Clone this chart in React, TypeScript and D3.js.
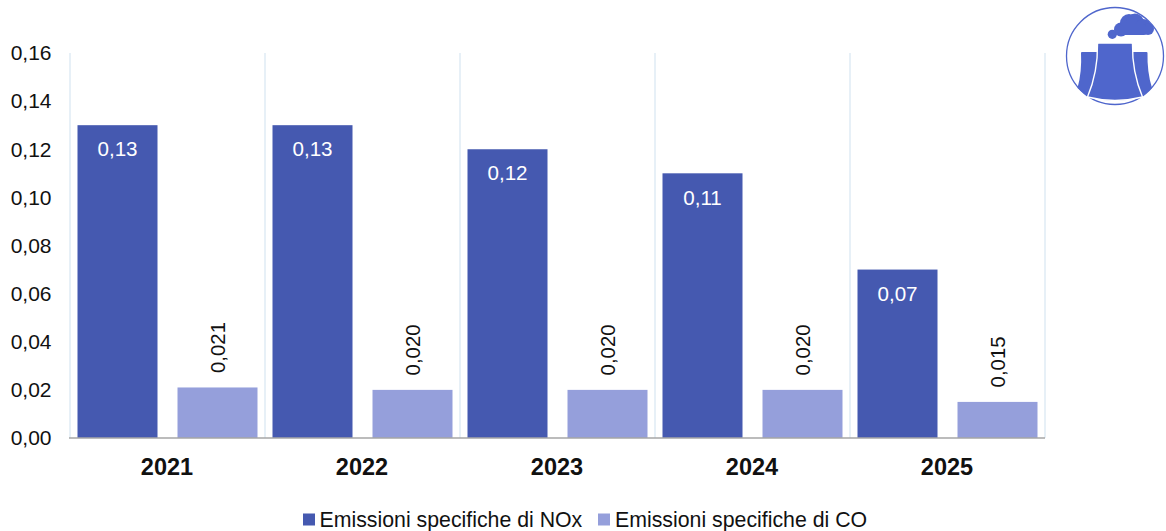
import React from "react";
import * as d3 from "d3";

const years = ["2021", "2022", "2023", "2024", "2025"];
const noxValues = [0.13, 0.13, 0.12, 0.11, 0.07];
const coValues = [0.021, 0.02, 0.02, 0.02, 0.015];
const yTicks = [0, 0.02, 0.04, 0.06, 0.08, 0.1, 0.12, 0.14, 0.16];
const seriesNames = ["Emissioni specifiche di NOx", "Emissioni specifiche di CO"];

const NOX_COLOR = "#4559b0";
const CO_COLOR = "#959fdb";
const ICON_COLOR = "#4f66cc";
const FONT = "'Liberation Sans', Arial, sans-serif";

const left = 70;
const right = 1045;
const top = 53;
const bottom = 438;

const comma = (v: number, digits: number) => v.toFixed(digits).replace(".", ",");

// Cooling towers with a smoke plume, inside a thin ring
function PlantIcon() {
  return (
    <g>
      <circle cx={1115} cy={56} r={48.5} fill="#fff" stroke={ICON_COLOR} strokeWidth={1.3} />
      <g fill={ICON_COLOR}>
        <path d="M1082 52 H1110 V97 L1088 97 L1077.5 88 Q1082 72 1081 53 Q1081 52 1082 52 Z" />
        <path d="M1120 52 H1146.5 Q1147.5 52 1147.5 53 Q1147 72 1152 88 L1142 97 L1120 97 Z" />
      </g>
      <path
        d="M1098.5 43 H1131.5 Q1132.5 43 1132.5 44 Q1132 72 1142.5 97 Q1115 104 1087.5 97 Q1098 72 1097.5 44 Q1097.5 43 1098.5 43 Z"
        fill={ICON_COLOR}
        stroke="#fff"
        strokeWidth={1.4}
      />
      <g fill={ICON_COLOR}>
        <circle cx={1112.3} cy={34.3} r={4.6} />
        <circle cx={1121} cy={29.5} r={7} />
        <circle cx={1129} cy={23} r={9} />
        <circle cx={1135} cy={22.5} r={9} />
        <circle cx={1143} cy={27} r={8} />
        <circle cx={1148} cy={29} r={6} />
        <rect x={1118} y={24} width={28} height={11} rx={3} />
      </g>
    </g>
  );
}

export default function App() {
  const x = d3.scaleBand<string>().domain(years).range([left, right]);
  const inner = d3
    .scaleBand<number>()
    .domain([0, 1])
    .range([0, x.bandwidth()])
    .paddingInner(0.2)
    .paddingOuter(0.075);
  const y = d3.scaleLinear().domain([0, 0.16]).range([bottom, top]);
  const separators = [...years.map((c) => x(c) as number), right];

  return (
    <svg
      width={1166}
      height={531}
      style={{ position: "absolute", left: 0, top: 0, background: "#fff" }}
      fontFamily={FONT}
    >
      {separators.map((sx) => (
        <line key={sx} x1={sx} x2={sx} y1={top} y2={bottom} stroke="#cfe1ef" strokeWidth={1} />
      ))}

      {yTicks.map((t) => (
        <text key={t} x={51.5} y={y(t)} dy="0.35em" textAnchor="end" fontSize={21} fill="#111">
          {comma(t, 2)}
        </text>
      ))}

      {years.map((c, i) => {
        const x0 = (x(c) as number) + (inner(0) as number);
        const x1 = (x(c) as number) + (inner(1) as number);
        const w = inner.bandwidth();
        return (
          <g key={c}>
            <rect x={x0} y={y(noxValues[i])} width={w} height={bottom - y(noxValues[i])} fill={NOX_COLOR} />
            <rect x={x1} y={y(coValues[i])} width={w} height={bottom - y(coValues[i])} fill={CO_COLOR} />
            <text
              x={x0 + w / 2}
              y={y(noxValues[i]) + 24}
              dy="0.35em"
              textAnchor="middle"
              fontSize={20.6}
              fill="#fff"
            >
              {comma(noxValues[i], 2)}
            </text>
            <text
              transform={`translate(${x1 + w / 2},${y(coValues[i]) - 40}) rotate(-90)`}
              dy="0.35em"
              textAnchor="middle"
              fontSize={20.4}
              fill="#111"
            >
              {comma(coValues[i], 3)}
            </text>
            <text
              x={(x(c) as number) + x.bandwidth() / 2 - 0.5}
              y={467}
              dy="0.35em"
              textAnchor="middle"
              fontSize={23.5}
              fontWeight="bold"
              fill="#111"
            >
              {c}
            </text>
          </g>
        );
      })}

      <line x1={left - 1} x2={right} y1={bottom} y2={bottom} stroke="#a6a6a6" strokeWidth={1.5} />

      <rect x={303} y={513.5} width={12} height={12} fill={NOX_COLOR} />
      <text x={319.5} y={519.5} dy="0.35em" fontSize={21.3} fill="#111">
        {seriesNames[0]}
      </text>
      <rect x={598} y={513.5} width={12} height={12} fill={CO_COLOR} />
      <text x={615} y={519.5} dy="0.35em" fontSize={21.3} fill="#111">
        {seriesNames[1]}
      </text>

      <PlantIcon />
    </svg>
  );
}
